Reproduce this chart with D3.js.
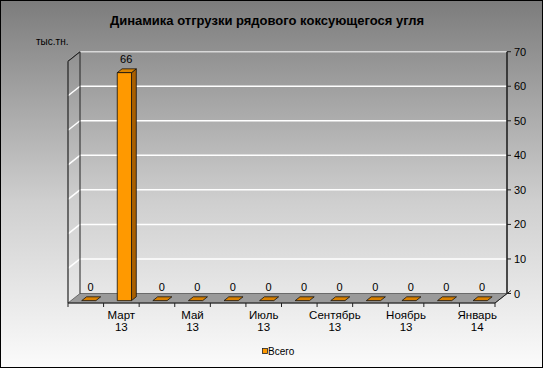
<!DOCTYPE html>
<html lang="ru">
  <head>
    <meta charset="utf-8">
    <title>Динамика отгрузки</title>
    <script src="https://cdn.jsdelivr.net/npm/d3@7"></script>
    <style>
      html, body { margin: 0; padding: 0; background: #fff; }
      text { font-family: "Liberation Sans", Arial, sans-serif; fill: #000; }
    </style>
  </head>
  <body>
    <svg id="chart" width="543" height="368"></svg>
  <script type="text/javascript">

    // data
    var months = ['Февраль', 'Март', 'Апрель', 'Май', 'Июнь', 'Июль',
                  'Август', 'Сентябрь', 'Октябрь', 'Ноябрь', 'Декабрь', 'Январь'];
    var years = ['13', '13', '13', '13', '13', '13', '13', '13', '13', '13', '13', '14'];
    var values = [0, 66, 0, 0, 0, 0, 0, 0, 0, 0, 0, 0];
    var yTicks = [0, 10, 20, 30, 40, 50, 60, 70];
    var seriesName = 'Всего';

    var svg = d3.select('#chart');
    var W = 543, H = 368;

    // depth offset of the 3d floor (from back plane to front edge)
    var DX = -12, DY = 9.5;
    function depth(p, t) { return [p[0] + DX * t, p[1] + DY * t]; }

    var x = d3.scaleBand().domain(d3.range(months.length)).range([80, 507]);
    var y = d3.scaleLinear().domain([0, 70]).range([293.5, 51.7]);

    var defs = svg.append('defs');
    var grad = defs.append('linearGradient').attr('id', 'bg')
      .attr('x1', 0).attr('y1', 0).attr('x2', 0).attr('y2', 1);
    grad.append('stop').attr('offset', '0%').attr('stop-color', '#7c7c7c');
    grad.append('stop').attr('offset', '55%').attr('stop-color', '#cfcfcf');
    grad.append('stop').attr('offset', '100%').attr('stop-color', '#fbfbfb');

    svg.append('rect').attr('x', 0.5).attr('y', 0.5).attr('width', W - 1).attr('height', H - 1)
      .attr('fill', 'url(#bg)').attr('stroke', '#000').attr('stroke-width', 1);

    // title
    svg.append('text').attr('x', 267).attr('y', 25).attr('text-anchor', 'middle')
      .style('font-size', '13px').style('font-weight', 'bold')
      .text('Динамика отгрузки рядового коксующегося угля');
    svg.append('text').attr('x', 36).attr('y', 45).style('font-size', '10px').text('тыс.тн.');

    var line = d3.line();
    var x0 = x.range()[0], x1 = x.range()[1];

    // floor
    var floorPts = [[x0, y(0)], [x1, y(0)], depth([x1, y(0)], 1), depth([x0, y(0)], 1)];
    svg.append('path').attr('d', line(floorPts) + 'Z')
      .attr('fill', '#9a9a9a').attr('stroke', '#555').attr('stroke-width', 0.8);

    // gridlines on back wall and side wall
    yTicks.forEach(function (v) {
      if (v === 0) return;
      var col = v === 70 ? '#d8d8d8' : '#ffffff';
      svg.append('line').attr('x1', x0).attr('x2', x1).attr('y1', y(v)).attr('y2', y(v))
        .attr('stroke', col).attr('stroke-width', 1.5);
      var f = depth([x0, y(v)], 1);
      svg.append('line').attr('x1', f[0]).attr('y1', f[1]).attr('x2', x0).attr('y2', y(v))
        .attr('stroke', col).attr('stroke-width', 1.5);
    });

    // left side wall edges
    var sideCol = '#222';
    svg.append('line').attr('x1', x0).attr('x2', x0).attr('y1', y(70)).attr('y2', y(0))
      .attr('stroke', sideCol).attr('stroke-width', 1);
    var ft = depth([x0, y(70)], 1), fb = depth([x0, y(0)], 1);
    svg.append('line').attr('x1', ft[0]).attr('x2', fb[0]).attr('y1', ft[1]).attr('y2', fb[1])
      .attr('stroke', sideCol).attr('stroke-width', 1.2);
    svg.append('line').attr('x1', ft[0]).attr('x2', x0).attr('y1', ft[1]).attr('y2', y(70))
      .attr('stroke', sideCol).attr('stroke-width', 1.2);

    // right value axis
    svg.append('line').attr('x1', x1).attr('x2', x1).attr('y1', y(70)).attr('y2', y(0))
      .attr('stroke', '#222').attr('stroke-width', 1.6);
    yTicks.forEach(function (v) {
      svg.append('line').attr('x1', x1).attr('x2', x1 + 4).attr('y1', y(v)).attr('y2', y(v))
        .attr('stroke', '#222').attr('stroke-width', 1);
      svg.append('text').attr('x', x1 + 7).attr('y', y(v) + 4).style('font-size', '11px').text(v);
    });
    var fr = depth([x1, y(0)], 1);
    svg.append('line').attr('x1', fr[0]).attr('y1', fr[1]).attr('x2', x1 + 4).attr('y2', y(0) - 3)
      .attr('stroke', '#222').attr('stroke-width', 1);

    // category axis on the front floor edge
    var fy = y(0) + DY;
    svg.append('line').attr('x1', x0 + DX).attr('x2', x1 + DX).attr('y1', fy).attr('y2', fy)
      .attr('stroke', '#222').attr('stroke-width', 1);
    d3.range(months.length + 1).forEach(function (i) {
      var xx = x0 + DX + i * x.bandwidth();
      svg.append('line').attr('x1', xx).attr('x2', xx).attr('y1', fy).attr('y2', fy + 4)
        .attr('stroke', '#222').attr('stroke-width', 1);
    });
    months.forEach(function (m, i) {
      if (i % 2 === 0) return;
      var cx = x(i) + x.bandwidth() / 2 + DX;
      var t = svg.append('text').attr('text-anchor', 'middle').style('font-size', '11.5px');
      t.append('tspan').attr('x', cx).attr('y', 319).text(m);
      t.append('tspan').attr('x', cx).attr('y', 331).text(years[i]);
    });

    // bars
    var tFront = 0.75, tBack = 0.35;
    var bw = x.bandwidth() * 0.4;
    values.forEach(function (v, i) {
      var cx = x(i) + x.bandwidth() / 2;
      var l = cx - bw / 2, r = cx + bw / 2;
      var FBL = depth([l, y(0)], tFront), FBR = depth([r, y(0)], tFront);
      var FTL = depth([l, y(v)], tFront), FTR = depth([r, y(v)], tFront);
      var BTL = depth([l, y(v)], tBack), BTR = depth([r, y(v)], tBack);
      var BBR = depth([r, y(0)], tBack);
      if (v === 0) {
        svg.append('path').attr('d', line([FTL, FTR, BTR, BTL]) + 'Z')
          .attr('fill', '#d98000').attr('stroke', '#111').attr('stroke-width', 0.8);
      } else {
        svg.append('path').attr('d', line([FTR, BTR, BBR, FBR]) + 'Z')
          .attr('fill', '#a85f00').attr('stroke', '#111').attr('stroke-width', 0.8);
        svg.append('path').attr('d', line([FTL, FTR, BTR, BTL]) + 'Z')
          .attr('fill', '#db8400').attr('stroke', '#111').attr('stroke-width', 0.8);
        svg.append('path').attr('d', line([FBL, FBR, FTR, FTL]) + 'Z')
          .attr('fill', '#ff9900').attr('stroke', '#111').attr('stroke-width', 0.8);
      }
      var lp = depth([cx, y(v)], 0.6);
      svg.append('text').attr('x', lp[0]).attr('y', y(v) + DY * tBack - 6)
        .attr('text-anchor', 'middle').style('font-size', '11px').text(v);
    });

    // legend
    svg.append('rect').attr('x', 262.5).attr('y', 348.5).attr('width', 5).attr('height', 5)
      .attr('fill', '#ff9900').attr('stroke', '#222').attr('stroke-width', 0.8);
    svg.append('text').attr('x', 268).attr('y', 355).style('font-size', '10px').text(seriesName);

  </script>
  </body>
</html>
